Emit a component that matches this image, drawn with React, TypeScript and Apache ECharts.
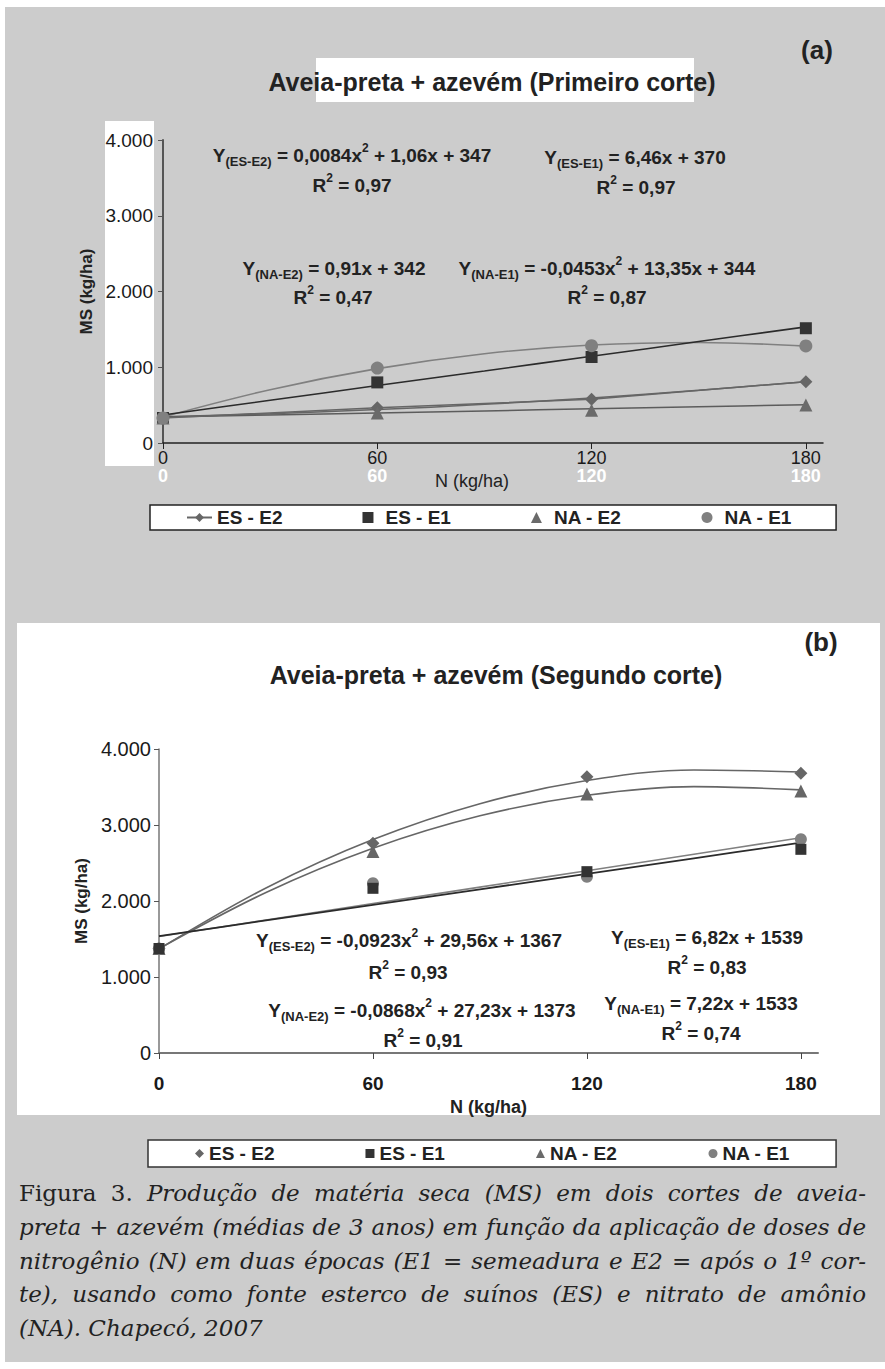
import React, { useEffect, useRef } from 'react';
import * as echarts from 'echarts';

// ---------- data ----------
const doses = [0, 60, 120, 180];
const xTicks = [0, 60, 120, 180];

// (a) Primeiro corte – observed means (kg/ha)
const aEsE2 = [330, 465, 577, 810];
const aEsE1 = [330, 800, 1135, 1515];
const aNaE2 = [330, 395, 432, 502];
const aNaE1 = [330, 990, 1285, 1281];

// trendline curves, read every 30 kg/ha of N
const trendX = [0, 30, 60, 90, 120, 150, 180];
const aTrEsE2 = [347, 386, 441, 510, 595, 695, 810];
const aTrEsE1 = [370, 564, 758, 951, 1145, 1339, 1533];
const aTrNaE2 = [342, 369, 397, 424, 451, 479, 506];
const aTrNaE1 = [344, 704, 982, 1179, 1294, 1327, 1279];

// (b) Segundo corte – observed means (kg/ha)
const bEsE2 = [1375, 2760, 3636, 3680];
const bEsE1 = [1375, 2167, 2386, 2680];
const bNaE2 = [1375, 2650, 3408, 3447];
const bNaE1 = [1375, 2233, 2320, 2812];
const bTrEsE2 = [1367, 2171, 2808, 3280, 3585, 3724, 3697];
const bTrEsE1 = [1539, 1744, 1948, 2153, 2357, 2562, 2767];
const bTrNaE2 = [1373, 2112, 2694, 3121, 3391, 3505, 3462];
const bTrNaE1 = [1533, 1750, 1966, 2183, 2399, 2616, 2833];

const captionLines = [
  'Figura 3. Produção de matéria seca (MS) em dois cortes de aveia-',
  'preta + azevém (médias de 3 anos) em função da aplicação de doses de',
  'nitrogênio (N) em duas épocas (E1 = semeadura e E2 = após o 1º cor-',
  'te), usando como fonte esterco de suínos (ES) e nitrato de amônio',
  '(NA). Chapecó, 2007',
];

const FONT = '"Liberation Sans", Arial, Helvetica, sans-serif';
const SERIF = '"DejaVu Serif", "Liberation Serif", serif';

const pairs = (arr: number[]) => doses.map((d, i) => [d, arr[i]]);
const trendPairs = (arr: number[]) => trendX.map((d, i) => [d, arr[i]]);
const fmt = (v: number) =>
  v === 0 ? '0' : String(Math.round(v)).replace(/\B(?=(\d{3})+(?!\d))/g, '.');

const ICON_SQUARE = 'path://M0,0L10,0L10,10L0,10Z';
const ICON_TRI = 'path://M5,0L10,10L0,10Z';
const ICON_DIAMOND = 'path://M5,0L10,5L5,10L0,5Z';

const eqRich = {
  m: { fontSize: 19, fontWeight: 'bold', fontFamily: FONT, fill: '#222', lineHeight: 26 },
  sub: { fontSize: 13, fontWeight: 'bold', fontFamily: FONT, fill: '#222', verticalAlign: 'bottom', lineHeight: 16 },
  sup: { fontSize: 12, fontWeight: 'bold', fontFamily: FONT, fill: '#222', verticalAlign: 'top', lineHeight: 14 },
};

function eq(x: number, y: number, text: string) {
  return {
    type: 'text',
    x,
    y,
    z: 20,
    style: { text, rich: eqRich, align: 'center', verticalAlign: 'middle', fontFamily: FONT },
  };
}

function plainText(x: number, y: number, text: string, size: number, weight: string, align = 'center') {
  return {
    type: 'text',
    x,
    y,
    z: 20,
    style: {
      text,
      fontFamily: FONT,
      fontSize: size,
      fontWeight: weight,
      fill: '#222',
      align,
      verticalAlign: 'middle',
    },
  };
}

const CAP_LEFT = 19;
const CAP_RIGHT = 866;
const CAP_SIZE = 23;
const capY = [1193, 1227, 1261, 1294, 1328];

function captionElements() {
  const canvas = document.createElement('canvas');
  const ctx = canvas.getContext('2d') as CanvasRenderingContext2D;
  return captionLines.map((line, li) => {
    const words = line.split(' ');
    const styles = words.map((_, wi) => (li === 0 && wi < 2 ? 'r' : 'i'));
    const widths = words.map((w, wi) => {
      ctx.font = `${styles[wi] === 'i' ? 'italic ' : ''}${CAP_SIZE}px ${SERIF}`;
      return ctx.measureText(w).width;
    });
    const total = widths.reduce((a, b) => a + b, 0);
    const last = li === captionLines.length - 1;
    ctx.font = `italic ${CAP_SIZE}px ${SERIF}`;
    const gap = last ? ctx.measureText(' ').width : (CAP_RIGHT - CAP_LEFT - total) / (words.length - 1);
    const rich = {
      r: { fontFamily: SERIF, fontSize: CAP_SIZE, fontStyle: 'normal', fill: '#222' },
      i: { fontFamily: SERIF, fontSize: CAP_SIZE, fontStyle: 'italic', fill: '#222' },
      g: { fontFamily: SERIF, fontSize: CAP_SIZE, width: gap, fill: '#222' },
    };
    const text = words.map((w, wi) => `{${styles[wi]}|${w}}`).join('{g|\u00a0}');
    return {
      type: 'text',
      x: CAP_LEFT,
      y: capY[li],
      z: 20,
      style: { text, rich, align: 'left', verticalAlign: 'middle' },
    };
  });
}

const X_MAX = 184.8;

function buildOption() {
  const xAxisCommon = {
    type: 'value',
    min: 0,
    max: X_MAX,
    splitLine: { show: false },
  };
  const yAxisCommon = {
    type: 'value',
    min: 0,
    max: 4000,
    interval: 1000,
    splitLine: { show: false },
  };
  const trend = (name: string, xi: number, yi: number, arr: number[], color: string, width = 1.5) => ({
    name,
    type: 'line',
    xAxisIndex: xi,
    yAxisIndex: yi,
    data: trendPairs(arr),
    smooth: 0.35,
    showSymbol: false,
    symbol: 'none',
    silent: true,
    z: 2,
    lineStyle: { color, width },
    itemStyle: { color },
  });
  const scatter = (name: string, xi: number, yi: number, arr: number[], symbol: string, size: number, color: string) => ({
    name,
    type: 'scatter',
    xAxisIndex: xi,
    yAxisIndex: yi,
    data: pairs(arr),
    symbol,
    symbolSize: size,
    z: 4,
    itemStyle: { color, opacity: 1 },
  });

  return {
    animation: false,
    backgroundColor: '#ffffff',
    textStyle: { fontFamily: FONT },
    grid: [
      { left: 163, top: 140, width: 660, height: 303, containLabel: false, outerBoundsMode: 'none' },
      { left: 159, top: 749, width: 659, height: 304, containLabel: false, outerBoundsMode: 'none' },
    ],
    xAxis: [
      {
        ...xAxisCommon,
        gridIndex: 0,
        position: 'bottom',
        axisLine: { show: true, onZero: false, lineStyle: { color: '#222', width: 1.5 } },
        axisTick: { show: true, length: 6, customValues: xTicks, lineStyle: { color: '#222', width: 1 } },
        axisLabel: { customValues: xTicks, color: '#1a1a1a', fontSize: 18, margin: 6, fontFamily: FONT },
        name: 'N (kg/ha)',
        nameLocation: 'middle',
        nameGap: 29,
        nameTextStyle: { fontSize: 18, color: '#222', fontFamily: FONT, padding: [0, 42, 0, 0] },
      },
      {
        ...xAxisCommon,
        gridIndex: 0,
        position: 'bottom',
        axisLine: { show: false },
        axisTick: { show: false },
        axisLabel: { customValues: xTicks, color: '#ffffff', fontWeight: 'bold', fontSize: 18, margin: 24, fontFamily: FONT },
      },
      {
        ...xAxisCommon,
        gridIndex: 1,
        position: 'bottom',
        axisLine: { show: true, onZero: false, lineStyle: { color: '#777', width: 2 } },
        axisTick: { show: true, length: 6, customValues: xTicks, lineStyle: { color: '#444', width: 1 } },
        axisLabel: { customValues: xTicks, color: '#1a1a1a', fontWeight: 'bold', fontSize: 19, margin: 21, fontFamily: FONT },
        name: 'N (kg/ha)',
        nameLocation: 'middle',
        nameGap: 45,
        nameTextStyle: { fontSize: 18, fontWeight: 'bold', color: '#222', fontFamily: FONT },
      },
    ],
    yAxis: [
      {
        ...yAxisCommon,
        gridIndex: 0,
        axisLine: { show: true, onZero: false, lineStyle: { color: '#555', width: 2 } },
        axisTick: { show: true, length: 5, lineStyle: { color: '#555', width: 1 } },
        axisLabel: { formatter: fmt, fontSize: 19, color: '#1a1a1a', margin: 10, fontFamily: FONT },
        name: 'MS (kg/ha)',
        nameLocation: 'middle',
        nameGap: 53,
        nameTextStyle: { fontSize: 17, fontWeight: 'bold', color: '#222', fontFamily: FONT },
      },
      {
        ...yAxisCommon,
        gridIndex: 1,
        axisLine: { show: true, onZero: false, lineStyle: { color: '#777', width: 1.5 } },
        axisTick: { show: true, length: 5, lineStyle: { color: '#555', width: 1 } },
        axisLabel: { formatter: fmt, fontSize: 20, color: '#1a1a1a', margin: 8, fontFamily: FONT },
        name: 'MS (kg/ha)',
        nameLocation: 'middle',
        nameGap: 53,
        nameTextStyle: { fontSize: 17, fontWeight: 'bold', color: '#222', fontFamily: FONT },
      },
    ],
    legend: [
      {
        data: [
          { name: 'ES - E2' },
          { name: 'ES - E1', icon: ICON_SQUARE },
          { name: 'NA - E2', icon: ICON_TRI },
          { name: 'NA - E1', icon: 'circle' },
        ],
        left: 150,
        top: 505,
        orient: 'horizontal',
        padding: [3, 44, 3, 36],
        itemGap: 80,
        itemWidth: 25,
        itemHeight: 11,
        symbolKeepAspect: true,
        selectedMode: false,
        backgroundColor: '#ffffff',
        borderColor: '#222',
        borderWidth: 1.5,
        borderRadius: 0,
        textStyle: { fontSize: 19, fontWeight: 'bold', color: '#222', fontFamily: FONT },
      },
      {
        data: [
          { name: 'ES - E2', icon: ICON_DIAMOND },
          { name: 'ES - E1', icon: ICON_SQUARE },
          { name: 'NA - E2', icon: ICON_TRI },
          { name: 'NA - E1', icon: 'circle' },
        ],
        left: 148,
        top: 1140,
        orient: 'horizontal',
        padding: [4, 46, 4, 47],
        itemGap: 91,
        itemWidth: 9,
        itemHeight: 11,
        symbolKeepAspect: true,
        selectedMode: false,
        backgroundColor: '#ffffff',
        borderColor: '#333',
        borderWidth: 1.5,
        borderRadius: 0,
        textStyle: { fontSize: 19, fontWeight: 'bold', color: '#222', fontFamily: FONT },
      },
    ],
    series: [
      // (a) trendlines
      trend('tr-a-NA-E1', 0, 0, aTrNaE1, '#808080', 1.6),
      trend('tr-a-ES-E1', 0, 0, aTrEsE1, '#2b2b2b', 1.6),
      trend('tr-a-ES-E2', 0, 0, aTrEsE2, '#666666', 1.5),
      trend('tr-a-NA-E2', 0, 0, aTrNaE2, '#5c5c5c', 1.5),
      // (a) observed
      {
        name: 'ES - E2',
        type: 'line',
        xAxisIndex: 0,
        yAxisIndex: 0,
        data: pairs(aEsE2),
        symbol: 'diamond',
        symbolSize: 13,
        showSymbol: true,
        z: 4,
        lineStyle: { color: '#666666', width: 1.5 },
        itemStyle: { color: '#666666' },
      },
      scatter('ES - E1', 0, 0, aEsE1, 'rect', 12, '#333333'),
      scatter('NA - E2', 0, 0, aNaE2, 'triangle', 13, '#6a6a6a'),
      scatter('NA - E1', 0, 0, aNaE1, 'circle', 13, '#808080'),
      // (b) trendlines
      trend('tr-b-ES-E2', 2, 1, bTrEsE2, '#666666', 1.6),
      trend('tr-b-NA-E2', 2, 1, bTrNaE2, '#666666', 1.6),
      trend('tr-b-NA-E1', 2, 1, bTrNaE1, '#808080', 1.6),
      trend('tr-b-ES-E1', 2, 1, bTrEsE1, '#2b2b2b', 1.8),
      // (b) observed
      scatter('ES - E2', 2, 1, bEsE2, 'diamond', 13, '#666666'),
      scatter('NA - E2', 2, 1, bNaE2, 'triangle', 13, '#666666'),
      scatter('NA - E1', 2, 1, bNaE1, 'circle', 12, '#808080'),
      scatter('ES - E1', 2, 1, bEsE1, 'rect', 11, '#333333'),
    ],
    graphic: {
      elements: [
        { type: 'rect', z: -100, shape: { x: 5, y: 7, width: 880, height: 1355 }, style: { fill: '#cccccc' } },
        { type: 'rect', z: -90, shape: { x: 17, y: 623, width: 863, height: 492 }, style: { fill: '#ffffff' } },
        { type: 'rect', z: -90, shape: { x: 316, y: 58, width: 378, height: 44 }, style: { fill: '#ffffff' } },
        { type: 'rect', z: -90, shape: { x: 105, y: 121, width: 49, height: 345 }, style: { fill: '#ffffff' } },
        plainText(817, 50, '(a)', 26, 'bold'),
        plainText(492, 82, 'Aveia-preta + azevém (Primeiro corte)', 25, 'bold'),
        plainText(821, 642, '(b)', 26, 'bold'),
        plainText(496, 675, 'Aveia-preta + azevém (Segundo corte)', 25, 'bold'),
        // (a) equations
        eq(352, 155, '{m|Y}{sub|(ES-E2)}{m| = 0,0084x}{sup|2}{m| + 1,06x + 347}'),
        eq(352, 185, '{m|R}{sup|2}{m| = 0,97}'),
        eq(635, 157, '{m|Y}{sub|(ES-E1)}{m| = 6,46x + 370}'),
        eq(636, 187, '{m|R}{sup|2}{m| = 0,97}'),
        eq(334, 268, '{m|Y}{sub|(NA-E2)}{m| = 0,91x + 342}'),
        eq(333, 297, '{m|R}{sup|2}{m| = 0,47}'),
        eq(607, 268, '{m|Y}{sub|(NA-E1)}{m| = -0,0453x}{sup|2}{m| + 13,35x + 344}'),
        eq(607, 297, '{m|R}{sup|2}{m| = 0,87}'),
        // (b) equations
        eq(409, 940, '{m|Y}{sub|(ES-E2)}{m| = -0,0923x}{sup|2}{m| + 29,56x + 1367}'),
        eq(408, 972, '{m|R}{sup|2}{m| = 0,93}'),
        eq(422, 1010, '{m|Y}{sub|(NA-E2)}{m| = -0,0868x}{sup|2}{m| + 27,23x + 1373}'),
        eq(423, 1040, '{m|R}{sup|2}{m| = 0,91}'),
        eq(707, 937, '{m|Y}{sub|(ES-E1)}{m| = 6,82x + 1539}'),
        eq(707, 967, '{m|R}{sup|2}{m| = 0,83}'),
        eq(701, 1003, '{m|Y}{sub|(NA-E1)}{m| = 7,22x + 1533}'),
        eq(701, 1033, '{m|R}{sup|2}{m| = 0,74}'),
        ...captionElements(),
      ],
    },
  };
}

export default function App() {
  const ref = useRef<HTMLDivElement>(null);
  useEffect(() => {
    if (!ref.current) return;
    const chart = echarts.init(ref.current, undefined, { renderer: 'svg', width: 885, height: 1369 });
    chart.setOption(buildOption() as any);
    return () => chart.dispose();
  }, []);
  return (
    <div
      ref={ref}
      style={{ position: 'absolute', left: 0, top: 0, width: 885, height: 1369 }}
    />
  );
}
